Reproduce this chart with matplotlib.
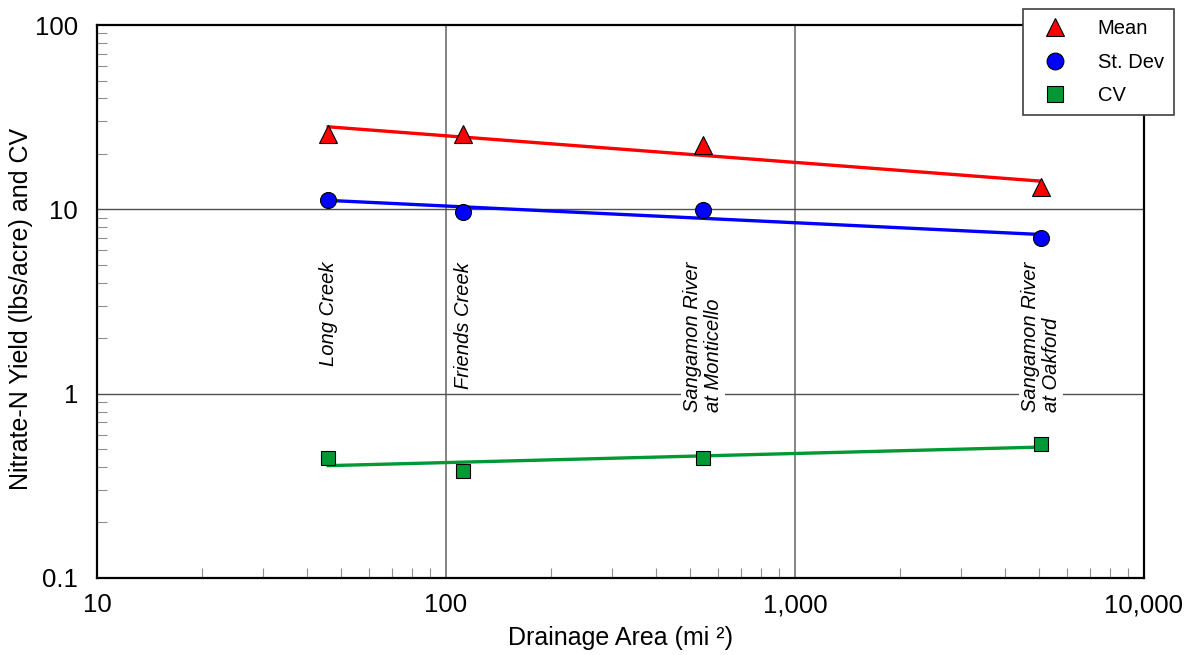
import numpy as np
import matplotlib
matplotlib.use('Agg')
import matplotlib.pyplot as plt
from matplotlib.ticker import FuncFormatter, LogLocator, NullFormatter
from matplotlib.lines import Line2D

plt.rcParams['font.family'] = ['Liberation Sans', 'DejaVu Sans']

# drainage area (mi2) of each site
sites = ['Long Creek', 'Friends Creek', 'Sangamon River\nat Monticello', 'Sangamon River\nat Oakford']
area = np.array([46.0, 112.0, 545.0, 5080.0])

# nitrate-N yield stats
mean = np.array([25.6, 25.6, 22.3, 13.2])
stdev = np.array([11.2, 9.7, 9.9, 7.0])
cv = np.array([0.45, 0.38, 0.45, 0.53])

series = [
    ('Mean', mean, '#ff0000', '^', 13),
    ('St. Dev', stdev, '#0000ff', 'o', 11.5),
    ('CV', cv, '#009933', 's', 10.5),
]

fig = plt.figure(figsize=(11.88, 6.55), dpi=100)
ax = fig.add_axes([0.0816, 0.1176, 0.8813, 0.8442])

ax.set_xscale('log')
ax.set_yscale('log')
ax.set_xlim(10, 10000)
ax.set_ylim(0.1, 100)

# power-law trend lines between first and last site
lx = np.log10(area)
xfit = np.array([area[0], area[-1]])
handles = []
for name, vals, col, mk, ms in series:
    b, a = np.polyfit(lx, np.log10(vals), 1)
    ax.plot(xfit, 10 ** (a + b * np.log10(xfit)), color=col, lw=2.4, zorder=3)
    ax.plot(area, vals, linestyle='none', marker=mk, ms=ms, mfc=col,
            mec='black', mew=0.8, zorder=4, clip_on=False)
    handles.append(Line2D([], [], linestyle='none', marker=mk, ms=ms * 1.05,
                          mfc=col, mec='black', mew=0.8, label=name))

# grid only at the decades
for gx in [100, 1000]:
    ax.axvline(gx, color='#707070', lw=1.2, zorder=1)
for gy in [1, 10]:
    ax.axhline(gy, color='#505050', lw=1.0, zorder=1)

for x, s in zip(area, sites):
    ax.text(x, 5.2, s, rotation=90, ha='center', va='top', style='italic',
            fontsize=14.5, multialignment='left', linespacing=1.12, zorder=2,
            bbox=dict(facecolor='white', edgecolor='none', pad=1.5))

ax.xaxis.set_major_locator(LogLocator(base=10, numticks=10))
ax.yaxis.set_major_locator(LogLocator(base=10, numticks=10))
ax.xaxis.set_minor_locator(LogLocator(base=10, subs=np.arange(2, 10), numticks=20))
ax.yaxis.set_minor_locator(LogLocator(base=10, subs=np.arange(2, 10), numticks=20))
ax.xaxis.set_minor_formatter(NullFormatter())
ax.yaxis.set_minor_formatter(NullFormatter())
ax.xaxis.set_major_formatter(FuncFormatter(lambda v, p: '{:,.0f}'.format(v)))
ax.yaxis.set_major_formatter(FuncFormatter(lambda v, p: '{:g}'.format(v)))

ax.tick_params(which='major', length=0, labelsize=18.5)
ax.tick_params(axis='x', which='major', pad=11)
ax.tick_params(axis='y', which='major', pad=13.5)
ax.tick_params(which='minor', direction='in', length=7, width=0.8, color='#909090')
for sp in ax.spines.values():
    sp.set_linewidth(1.6)
    sp.set_zorder(5)

ax.set_xlabel('Drainage Area (mi \u00b2)', fontsize=18)
ax.set_ylabel('Nitrate-N Yield (lbs/acre) and CV', fontsize=18)
ax.xaxis.set_label_coords(0.5, -0.087)
ax.yaxis.set_label_coords(-0.061, 0.487)

leg = fig.legend(handles=handles, loc='upper left', bbox_to_anchor=(1023 / 1188, 1 - 9 / 655),
                 fontsize=14.5, frameon=True, fancybox=False, framealpha=1,
                 edgecolor='#404040', borderpad=0.5, labelspacing=0.72,
                 handletextpad=1.0, handlelength=2.2, borderaxespad=0)
leg.get_frame().set_linewidth(1.2)
leg.set_zorder(10)

fig.savefig('out.png', dpi=100)
